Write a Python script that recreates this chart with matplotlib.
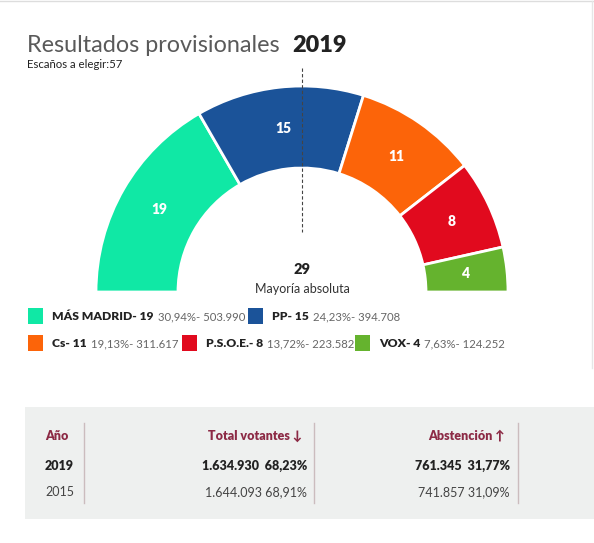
import matplotlib.pyplot as plt
from matplotlib.patches import Rectangle
import numpy as np

# data
parties = ['MÁS MADRID', 'PP', 'Cs', 'P.S.O.E.', 'VOX']
seats = [19, 15, 11, 8, 4]
pct = ['30,94%', '24,23%', '19,13%', '13,72%', '7,63%']
votes = ['503.990', '394.708', '311.617', '223.582', '124.252']
colors = ['#10e8a5', '#1b5399', '#fc6409', '#e10a1e', '#65b32e']
total_seats = 57
majority = 29

years = ['2019', '2015']
voters = ['1.634.930', '1.644.093']
voters_pct = ['68,23%', '68,91%']
abst = ['761.345', '741.857']
abst_pct = ['31,77%', '31,09%']

plt.rcParams['font.family'] = ['Lato', 'DejaVu Sans']

fig = plt.figure(figsize=(5.94, 5.43), dpi=100)
ax = fig.add_axes([0, 0, 1, 1])

# half donut (pixel coordinates, y pointing down)
cx, cy, r_out, r_in = 302, 292, 206, 124
wedges, _ = ax.pie(seats + [total_seats], colors=colors + ['none'],
                   center=(cx, cy), radius=r_out, startangle=180,
                   counterclock=True,
                   wedgeprops=dict(width=r_out - r_in, edgecolor='white', linewidth=2))
wedges[-1].set_edgecolor('none')
ax.set_xlim(0, 594)
ax.set_ylim(543, 0)
ax.axis('off')

start = 180.0
r_mid = (r_out + r_in) / 2
for s in seats:
    span = 180.0 * s / total_seats
    a = np.radians(start + span / 2)
    ax.text(cx + r_mid * np.cos(a), cy + r_mid * np.sin(a), str(s),
            color='white', fontsize=10, fontweight='heavy', ha='center', va='center')
    start += span

ax.plot([cx, cx], [68, 232], color='#444444', lw=0.8, ls=(0, (3, 2)))
ax.text(cx, 270, str(majority), fontsize=10.5, fontweight='heavy', color='#222222',
        ha='center', va='center')
ax.text(cx, 289, 'Mayoría absoluta', fontsize=9, color='#333333', ha='center', va='center')

# title
t = ax.text(27, 52, 'Resultados provisionales', fontsize=16.8, fontweight='normal',
            color='#5a5a5a', va='baseline')
ax.annotate('2019', xy=(1, 0), xycoords=t, xytext=(13, 0), textcoords='offset pixels',
            fontsize=16.8, fontweight='heavy', color='#222222', va='bottom')
ax.text(27, 64, 'Escaños a elegir:57', fontsize=8.2, color='#222222', va='center')

# legend
legend_pos = [(28, 316), (248, 316), (28, 343), (182, 343), (355, 343)]
for i, (x, y) in enumerate(legend_pos):
    ax.add_patch(Rectangle((x, y - 8), 15, 16, color=colors[i], lw=0))
    b = ax.text(x + 24, y + 4, f'{parties[i]}- {seats[i]}', fontsize=8.7,
                fontweight='heavy', color='#222222', va='baseline')
    ax.annotate(f'{pct[i]}- {votes[i]}', xy=(1, 0), xycoords=b, xytext=(4, 0),
                textcoords='offset pixels', fontsize=8.2, color='#666666', va='bottom')

# frame lines
ax.plot([0, 594], [1, 1], color='#dddddd', lw=1)
ax.plot([592, 592], [1, 368], color='#e6e6e6', lw=1)

# table
ax.add_patch(Rectangle((25, 407), 569, 112, color='#eef0ef', lw=0))
for x in [84, 314, 518]:
    ax.plot([x, x], [423, 503], color='#cbbcbe', lw=1)

head_c = '#8c2a45'
ax.text(45, 436, 'Año', fontsize=9, fontweight='heavy', color=head_c, va='center')
ax.text(302, 436, 'Total votantes ↓', fontsize=9, fontweight='heavy', color=head_c,
        va='center', ha='right')
ax.text(505, 436, 'Abstención ↑', fontsize=9, fontweight='heavy', color=head_c,
        va='center', ha='right')

row_y = [466, 492]
for i, y in enumerate(row_y):
    w = 'heavy' if i == 0 else 'normal'
    c = '#222222' if i == 0 else '#444444'
    gap = '  ' if i == 0 else ' '
    ax.text(45, y, years[i], fontsize=9, fontweight=w, color=c, va='center')
    ax.text(307, y, f'{voters[i]}{gap}{voters_pct[i]}', fontsize=9, fontweight=w,
            color=c, va='center', ha='right')
    ax.text(510, y, f'{abst[i]}{gap}{abst_pct[i]}', fontsize=9, fontweight=w,
            color=c, va='center', ha='right')

fig.savefig('out.png', dpi=100, facecolor='white')
